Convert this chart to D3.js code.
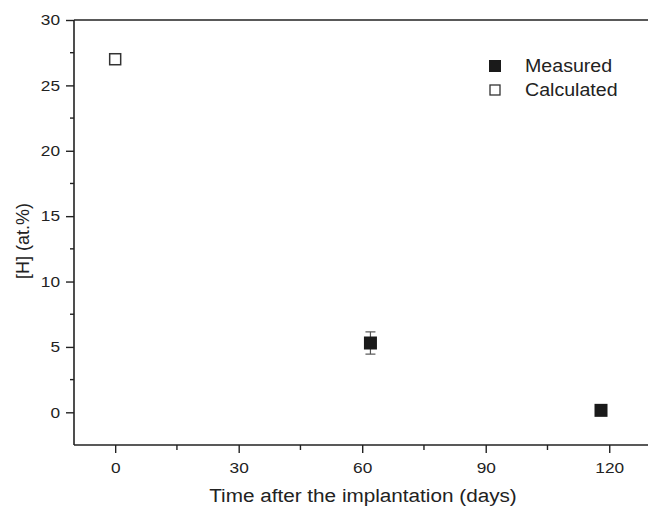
<!DOCTYPE html>
<html><head><meta charset="utf-8">
<script src="https://cdn.jsdelivr.net/npm/d3@7"></script>
<style>body{margin:0;background:#fff;overflow:hidden}svg{display:block;overflow:hidden}text{font-family:"Liberation Sans",Arial,sans-serif;fill:#222}</style>
</head><body><svg id="c" width="648" height="512"></svg>
<script>
const measuredDays = [62, 118];
const measuredH = [5.3, 0.15];
const measuredErr = [0.85, 0];
const calculatedDays = [0];
const calculatedH = [27];
const xTicks = [0, 30, 60, 90, 120];
const yTicks = [0, 5, 10, 15, 20, 25, 30];
const legendLabels = ["Measured", "Calculated"];

const svg = d3.select("#c");
const L = 74, T = 20, B = 445, R = 671;
const x = d3.scaleLinear().domain([-10, 135]).range([L, R]);
const y = d3.scaleLinear().domain([-2.5, 30]).range([B, T]);
const K = 1.15;
function stretch(sel, k) {
  sel.each(function () {
    const w = this.getComputedTextLength();
    d3.select(this).attr("textLength", w * k).attr("lengthAdjust", "spacingAndGlyphs");
  });
}

// frame (right side is outside the picture)
const fr = svg.append("g").attr("stroke", "#222").attr("stroke-width", 1.6);
fr.append("line").attr("x1", L).attr("x2", 648).attr("y1", T).attr("y2", T);
fr.append("line").attr("x1", L).attr("x2", 648).attr("y1", B).attr("y2", B);
fr.append("line").attr("x1", L).attr("x2", L).attr("y1", T).attr("y2", B);

// y axis
const yAx = svg.append("g").attr("transform", `translate(${L},0)`)
  .call(d3.axisLeft(y).tickValues(yTicks).tickSize(8).tickPadding(6).tickFormat(d3.format("d")));
yAx.select(".domain").remove();
yAx.selectAll("line").attr("stroke", "#222").attr("stroke-width", 1.4);
yAx.selectAll("text").attr("font-size", 15).attr("fill", "#333").style("font-family", "Liberation Sans, Arial");
stretch(yAx.selectAll("text"), K);
const yMinor = d3.range(-2.5, 30, 5).filter(v => v > -2.5);
svg.append("g").selectAll("line").data(yMinor).join("line")
  .attr("x1", L - 4).attr("x2", L).attr("y1", d => y(d)).attr("y2", d => y(d))
  .attr("stroke", "#222").attr("stroke-width", 1.4);

// x axis
const xAx = svg.append("g").attr("transform", `translate(0,${B})`)
  .call(d3.axisBottom(x).tickValues(xTicks).tickSize(8).tickPadding(9).tickFormat(d3.format("d")));
xAx.select(".domain").remove();
xAx.selectAll("line").attr("stroke", "#222").attr("stroke-width", 1.4);
xAx.selectAll("text").attr("font-size", 15).attr("fill", "#333").style("font-family", "Liberation Sans, Arial");
stretch(xAx.selectAll("text"), K);
const xMinor = [15, 45, 75, 105];
svg.append("g").selectAll("line").data(xMinor).join("line")
  .attr("x1", d => x(d)).attr("x2", d => x(d)).attr("y1", B).attr("y2", B + 5)
  .attr("stroke", "#222").attr("stroke-width", 1.4);

// axis titles
const xt = svg.append("text").attr("x", 363).attr("y", 502).attr("text-anchor", "middle")
  .attr("font-size", 18).attr("fill", "#333").text("Time after the implantation (days)");
stretch(xt, K);
svg.append("text").attr("transform", "translate(29,241) rotate(-90)").attr("text-anchor", "middle")
  .attr("font-size", 18).attr("fill", "#333").text("[H] (at.%)");

// error bars
const meas = measuredDays.map((d, i) => ({d, h: measuredH[i], e: measuredErr[i]}));
const eb = svg.append("g").selectAll("g").data(meas.filter(m => m.e > 0)).join("g");
eb.append("line").attr("x1", m => x(m.d)).attr("x2", m => x(m.d)).attr("y1", m => y(m.h - m.e)).attr("y2", m => y(m.h + m.e))
  .attr("stroke", "#555").attr("stroke-width", 1.2);
eb.selectAll("line.cap").data(m => [m.h - m.e, m.h + m.e].map(v => ({d: m.d, v}))).join("line")
  .attr("x1", c => x(c.d) - 5).attr("x2", c => x(c.d) + 5).attr("y1", c => y(c.v)).attr("y2", c => y(c.v))
  .attr("stroke", "#555").attr("stroke-width", 1.2);

// measured markers
const S = 13;
svg.append("g").selectAll("rect").data(meas).join("rect")
  .attr("x", m => x(m.d) - S / 2).attr("y", m => y(m.h) - S / 2).attr("width", S).attr("height", S)
  .attr("fill", "#1a1a1a");

// calculated markers
const calc = calculatedDays.map((d, i) => ({d, h: calculatedH[i]}));
svg.append("g").selectAll("rect").data(calc).join("rect")
  .attr("x", m => x(m.d) - 5.5).attr("y", m => y(m.h) - 5.5).attr("width", 11).attr("height", 11)
  .attr("fill", "#fff").attr("stroke", "#333").attr("stroke-width", 1.5);

// legend
const lg = svg.append("g");
lg.append("rect").attr("x", 489).attr("y", 60).attr("width", 12).attr("height", 12).attr("fill", "#1a1a1a");
lg.append("rect").attr("x", 490).attr("y", 85).attr("width", 10).attr("height", 10)
  .attr("fill", "#fff").attr("stroke", "#333").attr("stroke-width", 1.3);
const lt = lg.selectAll("text").data(legendLabels).join("text")
  .attr("x", 525).attr("y", (d, i) => 72 + i * 24).attr("font-size", 17.5).attr("fill", "#222").text(d => d);
stretch(lt, 1.12);
</script></body></html>
